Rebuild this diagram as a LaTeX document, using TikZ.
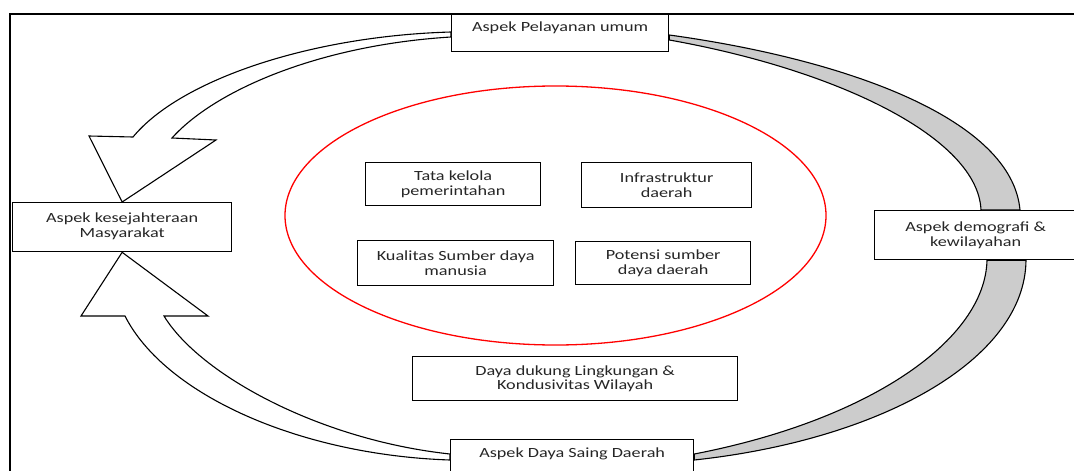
\documentclass[tikz,border=0pt]{standalone}
\usepackage{fontspec}
\setmainfont{Carlito}[FakeStretch=1.3]
\usetikzlibrary{calc}
\tikzset{
  box/.style={draw=black, line width=1.3pt, fill=white, inner sep=0pt, align=center,
    text=black!85, font=\fontsize{14}{14.5}\selectfont, anchor=north west},
  whitearrow/.style={draw=black, line width=1.1pt, fill=white, line join=miter},
  grayband/.style={draw=black, line width=1.1pt, fill=black!20},
}
\begin{document}
\begin{tikzpicture}[x=1pt,y=-1pt]
\useasboundingbox (0,0) rectangle (1074,471);
\clip (0,0) rectangle (1074,471);
\fill[white] (0,0) rectangle (1074,471);
% frame (cut off at right and bottom)
\draw[line width=1.6pt] (10,480) -- (10,14) -- (1090,14);

% red ellipse
\draw[red, line width=1.3pt] (555.5,215.5) ellipse [x radius=270.5, y radius=129.5];

% outer boxes
\node[box, minimum width=217, text height=17, text depth=20] (top) at (451,14) {Aspek Pelayanan umum};
\node[box, minimum width=219, minimum height=49] (left) at (12,202)
  {\raisebox{4pt}{\begin{tabular}{@{}c@{}}Aspek kesejahteraan\\Masyarakat\end{tabular}}};
\node[box, minimum width=230, minimum height=49] (right) at (874,210)
  {\raisebox{3pt}{\parbox{202pt}{\centering Aspek demografi \&\\kewilayahan}}\hspace{28pt}};
\node[box, minimum width=243, text height=18, text depth=23] (bottom) at (450,439) {Aspek Daya Saing Daerah};

% inner boxes
\node[box, minimum width=175, minimum height=43] (tata) at (365,162) {Tata kelola\\pemerintahan};
\node[box, minimum width=170, minimum height=45] (infra) at (581,162) {Infrastruktur\\daerah};
\node[box, minimum width=196, minimum height=45] (sdm) at (357,240) {Kualitas Sumber daya\\manusia};
\node[box, minimum width=175, minimum height=43] (potensi) at (575,241) {Potensi sumber\\daya daerah};
\node[box, minimum width=325, minimum height=44] (daya) at (412,356) {Daya dukung Lingkungan \&\\Kondusivitas Wilayah};

% arrow: top -> left (white, curved)
\draw[whitearrow] ($(top.north west)+(0,18)$) .. controls (310,36) and (180,80) .. (133,137)
  -- (89,136) -- (left.north) -- (216,140) -- (172,138)
  .. controls (215,90) and (320,45) .. ($(top.north west)+(0,23)$) -- cycle;

% arrow: bottom -> left (white, curved)
\draw[whitearrow] ($(bottom.north west)+(0,21)$) .. controls (300,455) and (165,395) .. (125,316)
  -- (81,316) -- (left.south) -- (208,316) -- (164,316)
  .. controls (200,375) and (320,440) .. ($(bottom.north west)+(0,15)$) -- cycle;

% gray band: top -> right
\draw[grayband] ($(top.north east)+(0,21)$) .. controls (850,60) and (1012,120) .. ($(right.north west)+(146,0)$)
  -- ($(right.north west)+(107,0)$) .. controls (978,138) and (838,70) .. ($(top.north east)+(0,26)$) -- cycle;

% gray band: right -> bottom
\draw[grayband] ($(right.south west)+(152,0)$) .. controls (1025,360) and (880,440) .. ($(bottom.north east)+(0,21)$)
  -- ($(bottom.north east)+(0,15)$) .. controls (870,420) and (985,340) .. ($(right.south west)+(113,0)$) -- cycle;
\end{tikzpicture}
\end{document}
